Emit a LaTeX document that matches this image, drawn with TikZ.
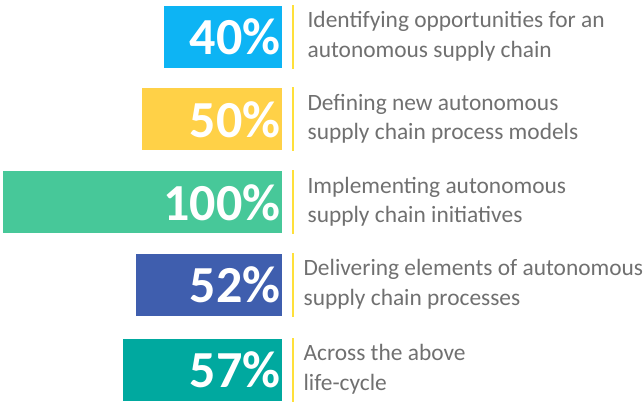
\documentclass[tikz,border=0pt]{standalone}
\usepackage{fontspec}
\setmainfont{Carlito}
\usetikzlibrary{positioning}

\definecolor{barblue}{HTML}{0DB4F4}
\definecolor{baryellow}{HTML}{FFD147}
\definecolor{bargreen}{HTML}{47C899}
\definecolor{barnavy}{HTML}{3F5EAE}
\definecolor{barteal}{HTML}{00A99F}
\definecolor{seprule}{HTML}{FFE03A}
\definecolor{desctext}{HTML}{707070}

\begin{document}
\begin{tikzpicture}[x=1pt, y=1pt,
    bar/.style = {anchor=east, minimum height=62pt, inner ysep=0pt, inner xsep=1.5pt,
                  align=right, text=white, font=\bfseries\fontsize{52}{52}\selectfont},
    sep/.style = {fill=seprule, minimum width=2pt, minimum height=64pt, inner sep=0pt},
    desc/.style = {align=left, inner sep=0pt, yshift=0.5pt, text=desctext,
                   font=\fontsize{23.4}{29.5}\selectfont}]
    \useasboundingbox (0,0) rectangle (643,403);
    % bars
    \node [bar, fill=barblue,   text width=115pt] (b40)  at (282,366)   {40\%};
    \node [bar, fill=baryellow, text width=137pt] (b50)  at (282,283.5) {50\%};
    \node [bar, fill=bargreen,  text width=276pt] (b100) at (282,200.5) {100\%};
    \node [bar, fill=barnavy,   text width=143pt] (b52)  at (282,118)   {52\%};
    \node [bar, fill=barteal,   text width=156pt] (b57)  at (282,33)    {57\%};
    % separators
    \node [sep, right=10pt of b40]  (s40)  {};
    \node [sep, right=10pt of b50]  (s50)  {};
    \node [sep, right=10pt of b100] (s100) {};
    \node [sep, right=10pt of b52]  (s52)  {};
    \node [sep, right=10pt of b57]  (s57)  {};
    % descriptions
    \node [desc, right=13pt of s40]  (t40)  {Identifying opportunities for an\\autonomous supply chain};
    \node [desc, right=13pt of s50]  (t50)  {Defining new autonomous\\supply chain process models};
    \node [desc, right=13pt of s100] (t100) {Implementing autonomous\\supply chain initiatives};
    \node [desc, right=9pt of s52]   (t52)  {Delivering elements of autonomous\\supply chain processes};
    \node [desc, right=9pt of s57]   (t57)  {Across the above\\life-cycle};
\end{tikzpicture}
\end{document}
